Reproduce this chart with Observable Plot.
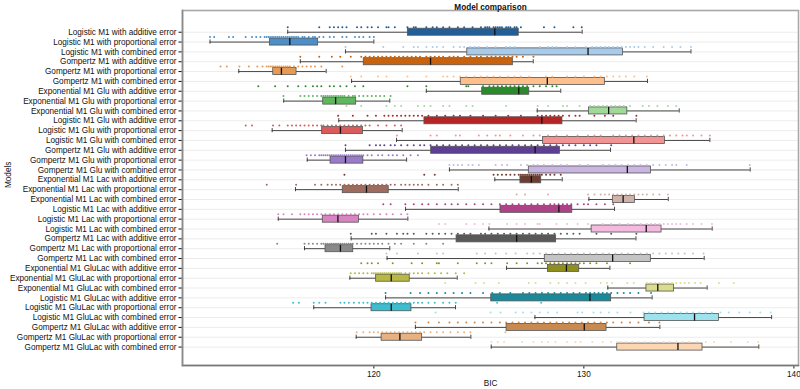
<!DOCTYPE html>
<html>
<head>
<meta charset="utf-8">
<script src="https://cdn.jsdelivr.net/npm/d3@7"></script>
<script src="https://cdn.jsdelivr.net/npm/@observablehq/plot@0.6"></script>
<style>
  html, body { margin: 0; padding: 0; background: #fff; }
  #chart svg { display: block; }
</style>
</head>
<body>
<div id="chart"></div>
<script>
const models = [
  "Logistic M1 with additive error",
  "Logistic M1 with proportional error",
  "Logistic M1 with combined error",
  "Gompertz M1 with additive error",
  "Gompertz M1 with proportional error",
  "Gompertz M1 with combined error",
  "Exponential M1 Glu with additive error",
  "Exponential M1 Glu with proportional error",
  "Exponential M1 Glu with combined error",
  "Logistic M1 Glu with additive error",
  "Logistic M1 Glu with proportional error",
  "Logistic M1 Glu with combined error",
  "Gompertz M1 Glu with additive error",
  "Gompertz M1 Glu with proportional error",
  "Gompertz M1 Glu with combined error",
  "Exponential M1 Lac with additive error",
  "Exponential M1 Lac with proportional error",
  "Exponential M1 Lac with combined error",
  "Logistic M1 Lac with additive error",
  "Logistic M1 Lac with proportional error",
  "Logistic M1 Lac with combined error",
  "Gompertz M1 Lac with additive error",
  "Gompertz M1 Lac with proportional error",
  "Gompertz M1 Lac with combined error",
  "Exponential M1 GluLac with additive error",
  "Exponential M1 GluLac with proportional error",
  "Exponential M1 GluLac with combined error",
  "Logistic M1 GluLac with additive error",
  "Logistic M1 GluLac with proportional error",
  "Logistic M1 GluLac with combined error",
  "Gompertz M1 GluLac with additive error",
  "Gompertz M1 GluLac with proportional error",
  "Gompertz M1 GluLac with combined error"
];

// box-plot summaries (BIC)
const whiskerLow = [115.9,112.2,118.65,116.5,113.57,118.94,122.5,115.71,127.78,118.33,115.16,121.08,118.65,116.83,123.6,125.76,116.27,130.24,121.51,115.45,125.48,118.92,116.7,120.63,126.32,118.86,131.14,120.56,117.14,127.67,121.98,119.16,125.59];
const quart1 = [121.62,115.05,124.45,119.52,115.21,124.14,125.16,117.59,130.24,122.41,117.54,128.06,122.73,117.94,127.38,126.98,118.52,131.38,126.03,117.57,130.37,123.94,117.7,128.14,128.29,120.11,132.98,125.59,119.89,132.89,126.32,120.37,131.59];
const medians = [125.76,116.0,130.2,122.7,115.6,128.26,126.9,118.18,131.18,128.0,118.41,132.38,127.68,118.65,132.07,127.5,119.65,131.87,128.81,118.29,132.97,126.8,118.41,131.37,129.17,120.83,133.52,130.29,120.83,135.27,130.02,121.24,134.48];
const quart3 = [126.9,117.35,131.86,126.62,116.32,131.0,127.4,119.16,132.07,128.98,119.48,133.86,128.86,119.5,133.2,127.97,120.71,132.43,129.45,119.29,133.7,128.68,119.02,133.19,129.78,121.71,134.29,131.3,121.79,136.43,131.08,122.3,135.65];
const whiskerHigh = [129.92,120.0,135.1,127.59,117.73,133.03,128.9,120.76,134.54,132.49,121.35,136.0,131.27,121.56,137.92,128.97,124.02,134.02,131.46,121.62,136.11,132.48,120.76,135.73,131.24,123.97,135.87,133.25,123.89,138.94,133.62,124.62,138.33];

// individual runs (BIC), one list per model
const points = [
  [115.9,117.4,117.9,118.1,118.3,118.5,118.7,119.2,119.4,119.7,119.9,120.2,120.6,120.7,121.0,121.6,121.9,122.0,122.5,122.8,123.0,123.3,123.6,124.0,124.3,124.7,125.1,125.3,125.4,125.5,125.7,125.8,125.9,126.0,126.1,126.3,126.4,126.5,126.7,126.8,127.0,128.1,128.6,129.5,129.9],
  [112.2,112.4,113.1,113.3,113.9,114.2,114.4,114.6,114.8,114.9,115.0,115.1,115.2,115.3,115.4,115.5,115.6,115.7,115.8,115.9,116.0,116.1,116.2,116.3,116.4,116.6,116.7,116.9,117.1,117.2,117.4,117.6,117.9,118.1,118.5,118.7,119.1,119.3,119.5,119.8,120.0],
  [118.65,120.45,121.4,121.9,122.1,122.5,122.8,123.0,123.3,123.8,124.1,124.3,124.6,124.8,125.0,125.4,125.8,126.3,126.5,126.7,127.9,128.3,128.5,128.7,129.2,129.6,130.1,130.4,130.6,130.8,131.0,131.2,131.4,131.6,131.8,132.0,132.2,132.4,132.6,132.9,133.3,133.8,134.2,134.6,135.1],
  [116.5,117.4,118.0,118.4,118.9,119.4,119.6,119.8,120.0,120.2,120.4,120.6,120.8,121.0,121.2,121.4,121.6,121.8,122.0,122.2,122.5,122.7,122.9,123.1,123.3,123.6,123.8,124.0,124.3,124.6,124.9,125.1,125.4,125.6,125.8,126.0,126.2,126.4,126.6,126.8,127.1,127.6],
  [112.7,113.0,113.6,114.05,114.45,114.7,114.9,115.0,115.1,115.2,115.3,115.4,115.5,115.6,115.7,115.8,115.9,116.0,116.2,116.4,116.6,116.8,117.0,117.2,117.5,118.5],
  [118.9,119.4,120.2,120.6,121.6,122.5,123.3,123.5,123.8,124.1,124.4,124.8,125.1,125.4,125.7,126.0,126.4,126.7,127.0,127.4,128.2,128.5,129.2,129.6,130.0,130.5,130.8,131.1,131.4,131.7,132.0,132.4,133.0],
  [114.5,115.3,115.9,116.4,116.75,117.1,117.3,117.5,117.9,118.1,118.4,118.7,119.1,119.5,121.6,122.5,124.4,124.5,125.2,125.5,125.7,125.9,126.1,126.3,126.5,126.7,126.9,127.1,127.3,127.6,127.9,128.2,128.5,128.7],
  [115.7,116.5,116.7,116.9,117.1,117.3,117.5,117.6,117.7,117.8,117.9,118.0,118.1,118.2,118.3,118.4,118.5,118.6,118.8,119.0,119.1,119.3,119.5,119.7,119.9,120.1,120.3,120.5,120.8],
  [118.7,119.4,120.6,121.0,121.3,122.1,122.4,122.7,123.3,123.6,124.4,124.7,126.3,127.8,128.3,129.0,129.2,129.8,130.3,130.5,130.7,130.9,131.1,131.3,131.5,131.7,131.9,132.2,132.8,133.1,133.5,134.0,134.4],
  [118.3,119.0,119.7,120.1,120.5,120.7,120.9,121.1,121.3,121.5,121.7,121.9,122.1,122.3,122.6,123.0,123.4,123.8,124.1,124.6,125.2,125.8,126.4,127.0,127.8,128.0,128.2,128.4,128.6,128.8,129.0,129.3,129.6,129.8,130.5,131.0,131.4,132.5],
  [113.9,114.2,115.2,115.5,115.9,116.1,116.3,116.5,116.7,116.9,117.1,117.3,117.5,117.6,117.8,118.0,118.2,118.4,118.6,118.8,119.0,119.2,119.4,119.6,119.8,120.2,120.6,121.0,121.3],
  [121.1,122.7,123.0,123.9,124.1,125.0,125.4,125.8,126.0,126.5,127.1,127.6,127.9,128.3,128.7,129.2,129.7,130.2,130.5,130.8,131.4,131.7,132.0,132.3,132.6,132.9,133.2,133.5,133.8,134.1,134.4,134.7,134.9,135.2,135.6,136.0],
  [118.65,119.8,120.1,120.3,120.5,120.8,121.0,121.3,121.6,121.9,122.2,122.4,122.7,123.0,123.3,123.6,123.9,124.2,124.5,124.8,125.1,125.4,125.7,126.0,126.3,126.6,126.9,127.2,127.5,127.8,128.1,128.4,128.7,129.0,129.3,129.6,130.0,130.3,130.6,131.3],
  [116.8,117.0,117.2,117.4,117.5,117.6,117.7,117.8,117.9,118.0,118.1,118.2,118.3,118.4,118.5,118.6,118.7,118.8,118.9,119.0,119.1,119.2,119.3,119.4,119.5,119.7,119.9,120.2,120.4,120.7,120.9,121.1,121.4,121.75,122.1],
  [123.6,123.8,124.0,124.2,124.5,124.7,125.0,125.8,126.1,126.35,127.0,127.3,127.6,127.8,128.1,128.5,128.9,129.2,129.8,130.2,130.9,131.2,131.5,131.8,132.1,132.4,132.7,133.0,133.3,133.6,133.9,134.2,134.4,134.9,137.9],
  [118.6,122.4,122.9,125.7,125.9,126.1,126.3,126.5,126.7,126.9,127.0,127.1,127.2,127.3,127.4,127.5,127.6,127.7,127.8,127.9,128.0,128.2,128.4,128.6,128.9],
  [114.9,116.3,117.2,117.5,117.8,118.0,118.2,118.4,118.6,118.8,119.0,119.2,119.4,119.6,119.8,120.0,120.2,120.4,120.6,120.8,121.0,121.3,121.5,121.7,121.9,122.1,122.3,122.6,123.0,123.3,123.7,124.0],
  [126.8,127.2,128.3,130.2,130.5,130.8,131.0,131.2,131.4,131.6,131.8,132.0,132.2,132.4,132.6,132.8,133.0,133.3,133.6,134.0],
  [120.45,120.8,121.5,121.9,122.3,122.6,123.0,123.4,123.7,124.0,124.4,124.8,125.2,125.6,126.0,126.3,126.6,126.9,127.2,127.5,127.8,128.1,128.4,128.6,128.8,129.0,129.2,129.4,129.7,130.0,130.2,130.6,131.0,131.4],
  [115.45,115.7,116.1,116.5,116.7,116.9,117.1,117.3,117.5,117.7,117.9,118.1,118.3,118.5,118.7,118.9,119.1,119.3,119.5,119.7,120.0,120.3,120.6,120.9,121.3,121.6],
  [123.1,123.4,124.4,124.8,125.2,125.5,126.35,126.8,127.2,127.8,127.9,128.7,129.2,129.7,130.2,130.9,131.3,131.7,132.1,132.4,132.7,133.0,133.2,133.4,133.6,133.8,134.0,134.2,134.4,134.6,134.9,135.2,135.6,136.1],
  [118.9,119.9,120.1,120.6,121.1,121.4,121.6,121.9,122.5,122.8,123.1,123.4,123.7,124.0,124.3,124.6,125.1,125.3,125.6,125.9,126.2,126.5,126.8,127.1,127.4,127.7,128.0,128.3,128.6,128.9,129.2,129.5,129.8,130.6,131.3,132.5],
  [115.4,116.7,116.9,117.1,117.3,117.5,117.6,117.7,117.8,117.9,118.0,118.1,118.2,118.3,118.4,118.5,118.6,118.7,118.8,118.9,119.0,119.2,119.4,119.6,119.8,120.0,120.2,120.4,120.7,121.0,121.3,121.9,122.5,123.3],
  [120.6,121.1,122.1,123.0,123.3,124.9,125.3,125.8,126.3,126.75,127.3,127.6,127.9,128.2,128.5,128.8,129.1,129.4,129.7,130.0,130.3,130.6,130.9,131.2,131.5,131.8,132.1,132.4,132.7,133.0,133.3,133.6,133.9,134.2,134.5,134.8,135.2,135.7],
  [119.4,119.7,119.9,120.2,120.9,121.8,122.3,123.0,123.1,124.0,124.9,125.3,125.6,126.35,126.8,127.3,127.8,128.0,128.2,128.4,128.6,128.8,129.0,129.2,129.4,129.6,129.8,130.0,130.3,130.6,131.1,132.2],
  [118.9,119.1,119.3,119.5,119.7,119.9,120.0,120.1,120.2,120.3,120.4,120.5,120.6,120.7,120.8,120.9,121.0,121.1,121.2,121.3,121.5,121.7,121.9,122.1,122.3,122.6,122.9,123.2,123.5,123.9,124.3],
  [123.4,124.84,125.24,125.95,127.38,127.7,128.4,128.8,129.2,129.6,130.08,130.8,131.1,131.35,132.07,132.38,133.0,133.2,133.4,133.6,133.8,134.0,134.2,134.4,134.6,134.8,135.0,135.3,135.56,136.43,137.14],
  [120.56,121.75,122.2,122.6,123.0,123.4,123.8,124.2,124.6,125.2,125.64,126.0,126.5,127.1,127.4,127.7,128.0,128.3,128.6,128.9,129.2,129.5,129.8,130.1,130.3,130.5,130.7,130.9,131.1,131.3,131.6,131.9,132.2,132.6,133.2],
  [116.16,116.43,117.14,117.4,117.7,118.41,118.6,118.81,119.05,119.3,119.5,119.7,119.9,120.1,120.3,120.5,120.7,120.9,121.1,121.3,121.5,121.7,121.9,122.1,122.3,122.6,122.9,123.3,123.6,123.9,125.87,127.97],
  [122.94,125.56,126.03,126.75,127.1,127.5,127.9,128.3,128.73,129.7,129.92,130.46,130.8,131.2,131.6,132.22,132.84,133.1,133.4,133.7,134.0,134.3,134.6,134.9,135.2,135.5,135.8,136.1,136.5,136.9,137.4,137.9,138.4,138.9],
  [121.98,122.6,123.1,123.6,124.0,124.4,124.8,125.2,125.6,126.0,126.3,126.6,126.9,127.2,127.5,127.8,128.1,128.4,128.7,129.0,129.3,129.6,129.9,130.2,130.5,130.8,131.1,131.4,131.8,132.2,132.6,133.1,133.6],
  [119.18,119.5,119.8,120.0,120.2,120.4,120.6,120.8,121.0,121.2,121.4,121.6,121.8,122.0,122.2,122.4,122.7,123.0,123.3,123.65,124.0,124.3,124.6,126.27],
  [125.6,125.9,126.2,127.06,127.6,128.0,128.3,128.65,129.2,129.6,129.84,130.4,130.9,131.3,131.6,131.75,132.0,132.3,132.6,132.9,133.2,133.5,133.8,134.1,134.4,134.7,135.0,135.4,135.8,136.2,137.0,137.8,138.3]
];

const xTicks = [120, 130, 140];

const palette = [
  "#215f9a","#4d8ec6","#a9cbea",
  "#c9620c","#e59a55","#fdc08c",
  "#2b8a2b","#5fb85f","#a1d99b",
  "#b52525","#d95b5b","#f29494",
  "#5f3e96","#9a7bc9","#c8b5e0",
  "#6d3d2f","#9e6c5e","#cfb2aa",
  "#ad4289","#d884c2","#f5b8df",
  "#595959","#8a8a8a","#c4c4c4",
  "#8f8f1e","#b8b843","#dcdc8f",
  "#1a8a9a","#3dbdd0","#9de2ec",
  "#c98a52","#e6b283","#fcd6b2"
];

const boxes = models.map((m, i) => ({
  model: m, lo: whiskerLow[i], q1: quart1[i], med: medians[i], q3: quart3[i], hi: whiskerHigh[i]
}));
const dots = models.flatMap((m, i) => points[i].map(v => ({model: m, v})));

const xDomain = [110.89, 140.22];
const font = "'Liberation Sans', Arial, Helvetica, sans-serif";

const chart = Plot.plot({
  width: 800,
  height: 389,
  marginLeft: 182,
  marginRight: 2,
  marginTop: 10,
  marginBottom: 24,
  style: {fontFamily: font, fontSize: "8.2px", color: "#111", background: "#fff"},
  x: {domain: xDomain, ticks: xTicks, tickSize: 3.5, tickPadding: 2.5, label: null},
  y: {domain: models, padding: 0, round: false, insetTop: 16.8, insetBottom: 13.5, tickSize: 3.5, tickPadding: 2.5, label: null},
  color: {domain: models, range: palette},
  marks: [
    Plot.ruleY(models, {y: d => d, stroke: "#ececec", strokeWidth: 1}),
    Plot.frame({stroke: "#a8a8a8", strokeWidth: 1.6}),
    Plot.frame({anchor: "bottom", stroke: "#777", strokeWidth: 1.4}),
    Plot.frame({anchor: "left", stroke: "#8a8a8a", strokeWidth: 1.6}),
    Plot.ruleY(boxes, {y: "model", x1: "lo", x2: "hi", stroke: "#333", strokeWidth: 0.9}),
    Plot.tickX(boxes, {x: "lo", y: "model", stroke: "#333", strokeWidth: 0.9, insetTop: 2.8, insetBottom: 2.8}),
    Plot.tickX(boxes, {x: "hi", y: "model", stroke: "#333", strokeWidth: 0.9, insetTop: 2.8, insetBottom: 2.8}),
    Plot.barX(boxes, {x1: "q1", x2: "q3", y: "model", fill: "model", stroke: "#555", strokeWidth: 0.8, insetTop: 1.4, insetBottom: 1.4}),
    Plot.tickX(boxes, {x: "med", y: "model", stroke: "#111", strokeWidth: 1.3, insetTop: 1.4, insetBottom: 1.4}),
    Plot.dot(dots, {x: "v", y: "model", fill: "model", r: 1, dy: -5}),
    Plot.text(["Model comparison"], {frameAnchor: "top", dy: -6.5, fontWeight: "bold", fontSize: 8.2, fill: "#111"}),
    Plot.text(["BIC"], {frameAnchor: "bottom", dy: 20, fontSize: 8.2, fill: "#111"}),
    Plot.text(["Models"], {frameAnchor: "left", dx: -174, rotate: -90, fontSize: 8.2, fill: "#111"})
  ]
});
document.getElementById("chart").appendChild(chart);
</script>
</body>
</html>
